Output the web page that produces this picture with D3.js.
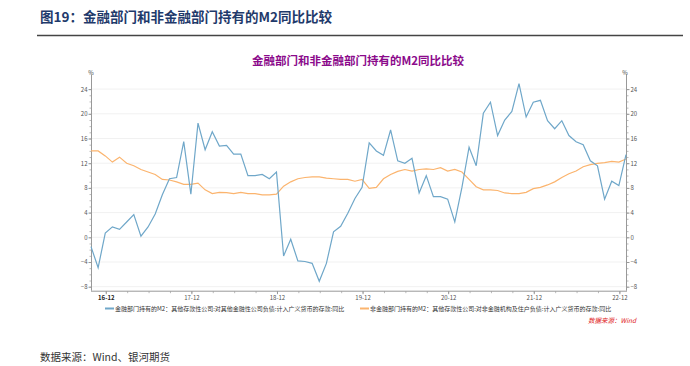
<!DOCTYPE html>
<html><head><meta charset="utf-8">
<script src="https://cdn.jsdelivr.net/npm/d3@7"></script>
<style>
html,body{margin:0;padding:0;background:#fff;}
svg{display:block;}
text{font-family:"Noto Sans CJK SC","Noto Sans",sans-serif;}
</style></head>
<body>
<svg id="c" width="690" height="366"></svg>
<script>
// ---- data (monthly, 2016-10 .. 2023-01) ----
const startYear = 2016, startMonth = 10;
const financialM2 = [
 -1.6,-5.0,0.6,1.6,1.2,2.4,3.6,0.1,1.6,3.7,6.8,9.4,9.6,15.4,6.9,18.4,14.1,17.0,14.7,14.8,
 13.4,13.4,9.9,9.9,10.1,9.4,10.5,-3.1,-0.4,-3.9,-4.0,-4.3,-7.2,-4.3,0.8,1.7,3.8,6.2,8.0,15.2,
 13.9,13.2,17.3,12.3,11.9,12.7,7.1,9.9,6.5,6.5,6.1,2.4,8.0,14.5,11.5,20.0,21.8,16.4,18.9,20.3,
 24.8,19.4,21.8,22.1,18.8,17.5,18.8,16.4,15.4,14.9,12.3,11.5,6.1,9.0,8.3,13.3];
const nonFinancialM2 = [
 13.9,13.9,13.1,12.1,12.9,11.9,11.5,10.9,10.5,10.1,9.3,9.2,8.9,8.5,8.5,8.7,7.6,7.0,7.2,7.15,
 7.0,7.2,7.0,7.0,6.8,6.8,6.9,8.2,8.9,9.4,9.6,9.7,9.7,9.5,9.4,9.3,9.3,9.0,9.3,7.85,
 8.0,9.4,10.1,10.6,10.9,10.65,10.9,11.0,10.9,11.2,10.65,10.9,10.5,9.3,8.1,7.6,7.6,7.5,7.1,7.0,
 7.0,7.2,7.8,8.0,8.4,8.9,9.6,10.2,10.65,11.35,11.7,11.9,12.0,12.2,12.1,12.6];
const xTickLabels = ["16-12","17-12","18-12","19-12","20-12","21-12","22-12"];
const yTicks = [-8,-4,0,4,8,12,16,20,24];
const seriesNames = [
 "金融部门持有的M2：其他存款性公司:对其他金融性公司负债:计入广义货币的存款:同比",
 "非金融部门持有的M2：其他存款性公司:对非金融机构及住户负债:计入广义货币的存款:同比"];
const pageTitle = "图19：金融部门和非金融部门持有的M2同比比较";
const chartTitle = "金融部门和非金融部门持有的M2同比比较";
const sourceInner = "数据来源：Wind";
const sourceOuter = "数据来源：Wind、银河期货";

// ---- helpers ----
function labelToIndex(l){const [yy,mm]=l.split("-").map(Number);return (2000+yy-startYear)*12+(mm-startMonth);}

const svg = d3.select("#c");
const colBlue = "#6fa7c9", colOrange = "#fbb46e";

// page title & rule
svg.append("text").attr("x",40).attr("y",22).attr("font-size",13.5).attr("font-weight","bold")
  .attr("fill","#1f3a6b").text(pageTitle);
svg.append("line").attr("x1",37).attr("x2",683).attr("y1",35.5).attr("y2",35.5)
  .attr("stroke","#444").attr("stroke-width",1.6);

// chart title
svg.append("text").attr("x",358).attr("y",65).attr("text-anchor","middle").attr("font-size",11.5)
  .attr("font-weight","bold").attr("fill","#8b0a8b").text(chartTitle);

// scales
const N = financialM2.length;
const x = d3.scaleLinear().domain([0,N-1]).range([91,626]);
const y = d3.scaleLinear().domain([-8,24]).range([286.2,88.6]);
const yTop = y.invert(74.5), yBot = y.invert(290.7);

// gridlines
svg.append("g").selectAll("line").data(yTicks).join("line")
  .attr("x1",91).attr("x2",626).attr("y1",d=>y(d)+0.5).attr("y2",d=>y(d)+0.5)
  .attr("stroke","#f1f1f1").attr("stroke-width",1);

const minorY = d3.range(-8,25,1);
function styleAxis(g){g.select(".domain").remove();g.selectAll("line").attr("stroke","#999");
  g.selectAll("text").attr("font-size",6).attr("fill","#555").attr("font-family","Liberation Sans, Arial, sans-serif");}

// left axis
svg.append("g").attr("transform","translate(91.5,0.5)")
  .call(d3.axisLeft(y).tickValues(minorY).tickSize(2).tickFormat(""))
  .call(g=>{g.select(".domain").remove();g.selectAll("line").attr("stroke","#bbb");});
svg.append("g").attr("transform","translate(91.5,0.5)")
  .call(d3.axisLeft(y).tickValues(yTicks).tickSize(3).tickPadding(1))
  .call(styleAxis);
svg.append("line").attr("x1",91.5).attr("x2",91.5).attr("y1",y(yTop)).attr("y2",y(yBot)).attr("stroke","#999");
// right axis
svg.append("g").attr("transform","translate(626.5,0.5)")
  .call(d3.axisRight(y).tickValues(minorY).tickSize(2).tickFormat(""))
  .call(g=>{g.select(".domain").remove();g.selectAll("line").attr("stroke","#bbb");});
svg.append("g").attr("transform","translate(626.5,0.5)")
  .call(d3.axisRight(y).tickValues(yTicks).tickSize(3).tickPadding(1))
  .call(styleAxis);
svg.append("line").attr("x1",626.5).attr("x2",626.5).attr("y1",y(yTop)).attr("y2",y(yBot)).attr("stroke","#999");
// units
svg.append("text").attr("x",91).attr("y",75).attr("font-size",6).attr("text-anchor","middle").attr("fill","#444").text("%");
svg.append("text").attr("x",625).attr("y",75).attr("font-size",6).attr("text-anchor","middle").attr("fill","#444").text("%");

// x axis
const xMinor = d3.range(2,N,3);
svg.append("g").attr("transform",`translate(0.5,${y(yBot)+0.5})`)
  .call(d3.axisBottom(x).tickValues(xMinor).tickSize(2).tickFormat(""))
  .call(g=>{g.select(".domain").remove();g.selectAll("line").attr("stroke","#bbb");});
svg.append("g").attr("transform",`translate(0.5,${y(yBot)+0.5})`)
  .call(d3.axisBottom(x).tickValues(xTickLabels.map(labelToIndex)).tickSize(3).tickPadding(2)
     .tickFormat(i=>xTickLabels[xTickLabels.map(labelToIndex).indexOf(i)]))
  .call(styleAxis)
  .call(g=>g.selectAll("text").filter((d,i)=>i===0).attr("font-weight","bold").attr("fill","#222"));
svg.append("line").attr("x1",91).attr("x2",627).attr("y1",y(yBot)+0.5).attr("y2",y(yBot)+0.5).attr("stroke","#999");

// lines
const line = d3.line().x((d,i)=>x(i)).y(d=>y(d));
svg.append("path").datum(nonFinancialM2).attr("d",line).attr("fill","none")
  .attr("stroke",colOrange).attr("stroke-width",1.2);
svg.append("path").datum(financialM2).attr("d",line).attr("fill","none")
  .attr("stroke",colBlue).attr("stroke-width",1.2);

// legend
const leg = [{c:colBlue,t:seriesNames[0],x:105},{c:colOrange,t:seriesNames[1],x:360}];
leg.forEach(l=>{
  svg.append("line").attr("x1",l.x).attr("x2",l.x+9).attr("y1",308.5).attr("y2",308.5).attr("stroke",l.c).attr("stroke-width",2);
  svg.append("text").attr("x",l.x+10).attr("y",310.5).attr("font-size",6).attr("fill","#333").text(l.t);
});
svg.append("text").attr("x",636).attr("y",322.5).attr("text-anchor","end").attr("font-size",6.5)
  .attr("font-style","italic").attr("fill","#e02020").text(sourceInner);

// footer
svg.append("text").attr("x",40).attr("y",361).attr("font-size",10.5).attr("fill","#333").text(sourceOuter);
</script>
</body></html>
